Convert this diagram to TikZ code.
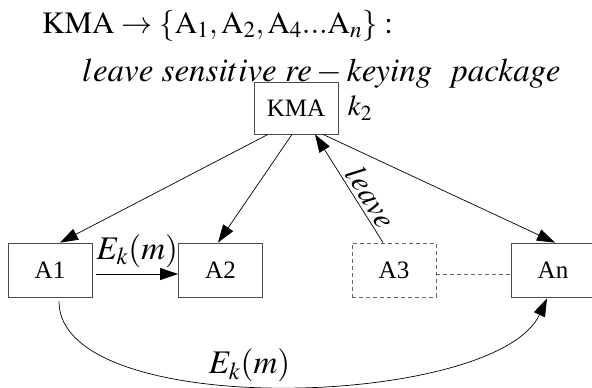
\RequirePackage{fix-cm}
\documentclass[tikz,border=0pt]{standalone}
\usepackage{amsmath}
\usepackage{mathptmx}
\usepackage{fontspec}
\setmainfont{Liberation Serif}
\usepackage{tikz}
\usetikzlibrary{arrows.meta,positioning}

\begin{document}
\begin{tikzpicture}[
    box/.style={draw=black!70, line width=0.8pt, minimum width=84pt, minimum height=54pt, font=\fontsize{25}{30}\selectfont},
    gone/.style={box, draw=black!60, dash pattern=on 4pt off 3pt},
    msg/.style={line width=0.7pt, -{Triangle[length=18pt,width=12pt]}},
    big/.style={font=\fontsize{31}{37}\selectfont}]
    \useasboundingbox (0,0) rectangle (20.806,13.602);
    % Heading
    \node[big, anchor=base west, inner sep=0] (head) at (1.476,12.442) {$\mathrm{KMA}\rightarrow\{\mathrm{A}_1,\mathrm{A}_2,\mathrm{A}_4...\mathrm{A}_n\}:$};
    \node[anchor=base west, inner sep=0, font=\fontsize{33}{39}\selectfont] (what) at (2.882,10.720) {$leave\ sensitive\ re-keying\ \ package$};
    % KMA and its key
    \node[box, minimum height=52pt] (kma) at (10.403,9.806) {KMA};
    \node[anchor=west, font=\fontsize{29}{34}\selectfont] (k2) at ([xshift=6pt]kma.east) {$k_2$};
    % Agents
    \node[box] (a1) at (1.757,4.112) {A1};
    \node[box] (a2) at (7.750,4.112) {A2};
    \node[gone] (a3) at (13.848,4.112) {A3};
    \node[box] (an) at (19.436,4.112) {An};
    % Re-keying arrows
    \draw[msg] ([xshift=-28pt]kma.south) -- ([xshift=10pt]a1.north);
    \draw[msg] ([xshift=-4pt]kma.south) -- ([xshift=-2.5pt]a2.north);
    \draw[msg] ([xshift=-11pt]a3.north) -- node[pos=0.35, sloped, above=2pt, inner sep=1pt, big] {$leave$} ([xshift=19pt]kma.south);
    \draw[msg] ([xshift=27pt]kma.south) -- ([xshift=2pt]an.north);
    % Messages between agents
    \draw[msg] ([xshift=4pt,yshift=-4pt]a1.east) -- node[above=3pt, font=\fontsize{33}{39}\selectfont] {$E_k(m)$} ([yshift=-4pt]a2.west);
    \draw[draw=black!60, line width=0.8pt, dash pattern=on 4pt off 3pt] ([yshift=-4pt]a3.east) -- ([yshift=-4pt]an.west);
    \draw[msg] ([xshift=9pt,yshift=-4pt]a1.south) .. controls +(0pt,-120pt) and +(-51pt,-110pt) .. node[pos=0.45, above, font=\fontsize{33}{39}\selectfont] {$E_k(m)$} ([xshift=-6pt,yshift=-1pt]an.south);
\end{tikzpicture}
\end{document}
